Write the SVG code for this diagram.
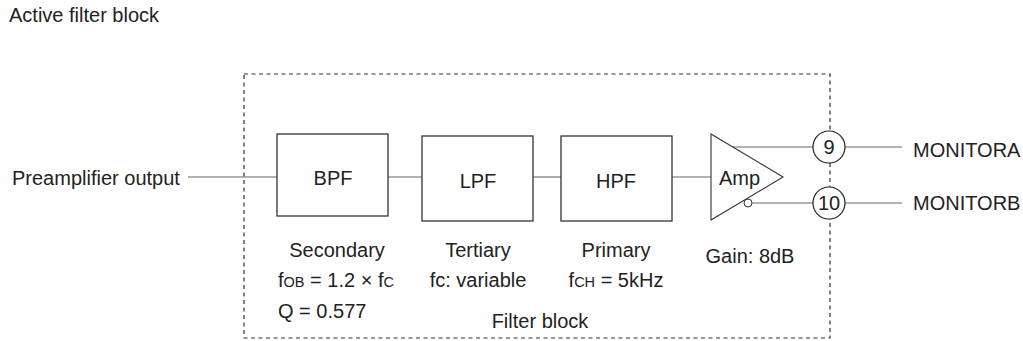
<svg xmlns="http://www.w3.org/2000/svg" width="1023" height="341" viewBox="0 0 1023 341">
<style>
text{font-family:"Liberation Sans",Arial,sans-serif;font-size:20px;fill:#222}
.c{text-anchor:middle}
.box{fill:#fff;stroke:#333;stroke-width:1.3}
.ln{stroke:#666;stroke-width:1.1;fill:none}
.s{font-size:14.5px}
</style>
<rect width="1023" height="341" fill="#fff"/>
<text x="9" y="22">Active filter block</text>
<rect x="244" y="74" width="586" height="264" fill="none" stroke="#333" stroke-width="1.2" stroke-dasharray="4,3.5"/>
<g id="connectors">
<line class="ln" x1="188" y1="177" x2="277" y2="177"/>
<line class="ln" x1="388" y1="177" x2="422" y2="177"/>
<line class="ln" x1="533" y1="177" x2="561" y2="177"/>
<line class="ln" x1="672" y1="177" x2="711" y2="177"/>
<line class="ln" x1="733" y1="147" x2="813" y2="147"/>
<line class="ln" x1="752" y1="203" x2="813" y2="203"/>
<line class="ln" x1="845" y1="147" x2="902" y2="147"/>
<line class="ln" x1="845" y1="203" x2="902" y2="203"/>
</g>
<g id="input"><text x="12" y="185">Preamplifier output</text></g>
<g id="bpf"><rect class="box" x="277" y="134" width="111" height="82"/><text class="c" x="333" y="185">BPF</text></g>
<g id="lpf"><rect class="box" x="422" y="136" width="111" height="85"/><text class="c" x="478" y="188">LPF</text></g>
<g id="hpf"><rect class="box" x="561" y="136" width="111" height="85"/><text class="c" x="616" y="188">HPF</text></g>
<g id="amp"><polygon points="711,134 783,177 711,220" fill="#fff" stroke="#333" stroke-width="1.1"/><circle cx="748" cy="203" r="4" fill="#fff" stroke="#333" stroke-width="1"/><text x="719" y="185">Amp</text></g>
<g id="pin9"><circle cx="829" cy="147" r="16" fill="#fff" stroke="#222" stroke-width="1.2"/><text class="c" x="829" y="154">9</text></g>
<g id="pin10"><circle cx="829" cy="203" r="16" fill="#fff" stroke="#222" stroke-width="1.2"/><text class="c" x="829" y="210">10</text></g>
<g id="monA"><text x="913" y="157">MONITORA</text></g>
<g id="monB"><text x="913" y="210">MONITORB</text></g>
<g id="labels">
<text class="c" x="337" y="257">Secondary</text>
<text x="278" y="287">f<tspan class="s">OB</tspan> = 1.2 × f<tspan class="s">C</tspan></text>
<text x="278" y="318">Q = 0.577</text>
<text class="c" x="478" y="257">Tertiary</text>
<text class="c" x="478" y="287">fc: variable</text>
<text class="c" x="616" y="257">Primary</text>
<text class="c" x="616" y="287">f<tspan class="s">CH</tspan> = 5kHz</text>
<text class="c" x="750" y="263">Gain: 8dB</text>
<text class="c" x="540" y="328">Filter block</text>
</g>
</svg>
